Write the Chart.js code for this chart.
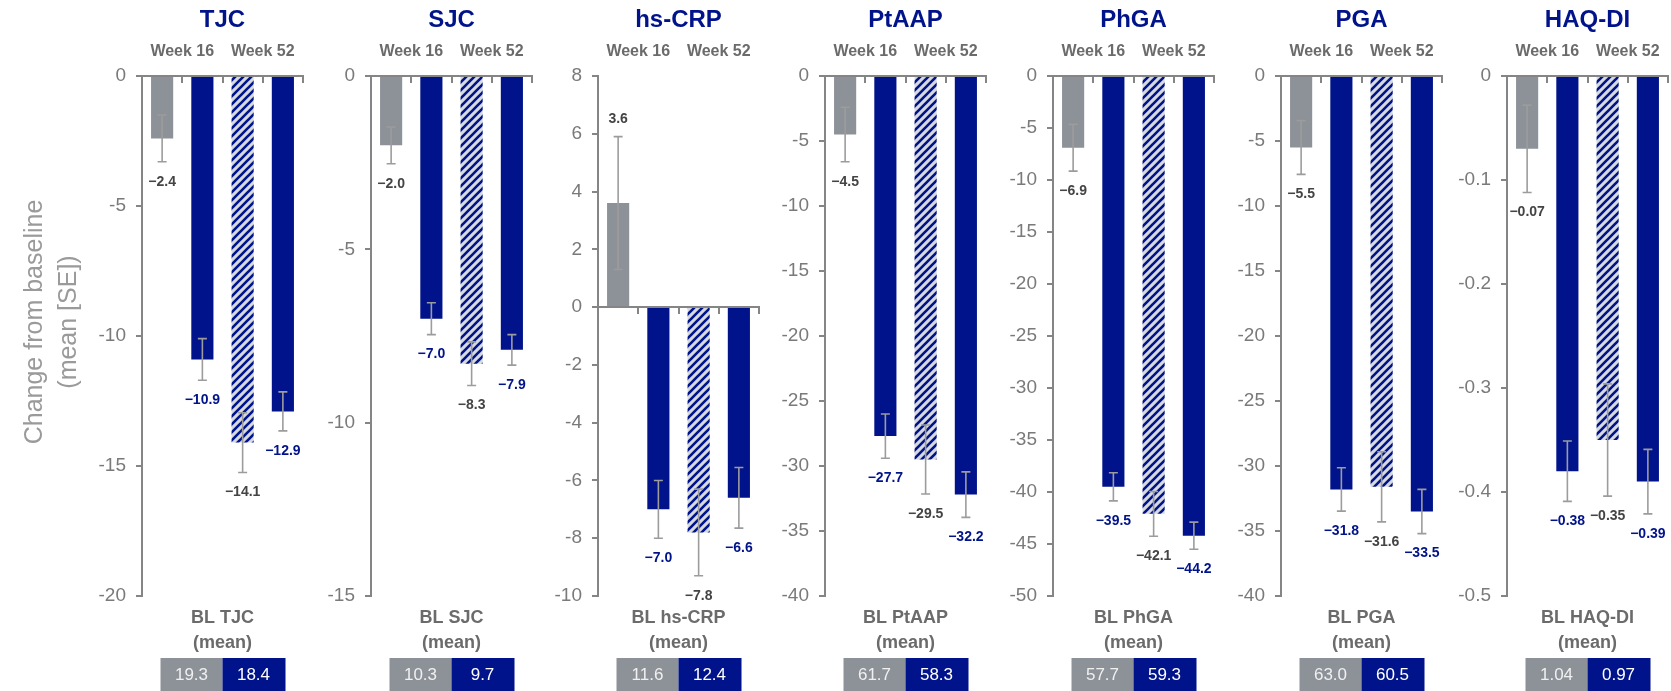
<!DOCTYPE html>
<html>
<head>
<meta charset="utf-8">
<script src="https://cdn.jsdelivr.net/npm/chart.js@4.4.1/dist/chart.umd.min.js"></script>
<style>
  html, body { margin: 0; padding: 0; background: #fff; width: 1671px; height: 691px; overflow: hidden; }
  #wrap { position: relative; width: 1671px; height: 691px; }
  #wrap canvas { position: absolute; top: 0; }
</style>
</head>
<body>
<div id="wrap"></div>
<script>
(() => {
  "use strict";

  // ── data ────────────────────────────────────────────────────────────────
  const PANELS = ["TJC", "SJC", "hs-CRP", "PtAAP", "PhGA", "PGA", "HAQ-DI"];
  const WEEKS = ["Week 16", "Week 52"];
  const CATS = ["Week 16 grey", "Week 16 blue", "Week 52 hatched", "Week 52 blue"];

  const GREY_16  = [-2.4, -2.0, 3.6, -4.5, -6.9, -5.5, -0.07];
  const BLUE_16  = [-10.9, -7.0, -7.0, -27.7, -39.5, -31.8, -0.38];
  const HATCH_52 = [-14.1, -8.3, -7.8, -29.5, -42.1, -31.6, -0.35];
  const BLUE_52  = [-12.9, -7.9, -6.6, -32.2, -44.2, -33.5, -0.39];

  const SE_GREY_16  = [0.9, 0.53, 2.3, 2.1, 2.25, 2.07, 0.042];
  const SE_BLUE_16  = [0.8, 0.46, 1.0, 1.7, 1.35, 1.67, 0.029];
  const SE_HATCH_52 = [1.15, 0.63, 1.5, 2.65, 2.15, 2.7, 0.054];
  const SE_BLUE_52  = [0.75, 0.44, 1.05, 1.75, 1.3, 1.7, 0.031];

  const Y_MIN  = [-20, -15, -10, -40, -50, -40, -0.5];
  const Y_MAX  = [0, 0, 8, 0, 0, 0, 0];
  const Y_STEP = [5, 5, 2, 5, 5, 5, 0.1];
  const DECIMALS = [1, 1, 1, 1, 1, 1, 2];

  const BL_GREY = [19.3, 10.3, 11.6, 61.7, 57.7, 63.0, 1.04];
  const BL_BLUE = [18.4, 9.7, 12.4, 58.3, 59.3, 60.5, 0.97];

  const Y_TITLE = ["Change from baseline", "(mean [SE])"];

  // ── layout / style ──────────────────────────────────────────────────────
  const AXIS_X = [142, 371, 598, 825, 1053, 1281, 1507];
  const PLOT_W = 161, TOP = 76, BOTTOM = 596, H = 691, Y_W = 60;
  const NAVY = "#00138a", GREY = "#8d9198", AXIS = "#858585", TXT = "#6b6b6b", ERR = "#9c9c9c";
  const FONT = "'Liberation Sans', Arial, sans-serif";
  Chart.defaults.font.family = FONT;

  const fmt = (v, d) => (v < 0 ? "\u2212" : "") + Math.abs(v).toFixed(d);

  function hatch(ctx) {
    const c = document.createElement("canvas");
    c.width = c.height = 8;
    const g = c.getContext("2d");
    g.fillStyle = "#d6d9dd";
    g.fillRect(0, 0, 8, 8);
    g.strokeStyle = NAVY;
    g.lineWidth = 2.6;
    g.beginPath();
    g.moveTo(-2, 10); g.lineTo(10, -2);
    g.moveTo(-2, 2); g.lineTo(2, -2);
    g.moveTo(6, 10); g.lineTo(10, 6);
    g.stroke();
    return ctx.createPattern(c, "repeat");
  }

  // error bars, value labels, headings, baseline boxes
  const overlay = {
    id: "overlay",
    afterDatasetsDraw(chart, args, o) {
      const { ctx, chartArea: a, scales: { x, y } } = chart;
      const i = o.idx;
      const vals = [GREY_16[i], BLUE_16[i], HATCH_52[i], BLUE_52[i]];
      const ses = [SE_GREY_16[i], SE_BLUE_16[i], SE_HATCH_52[i], SE_BLUE_52[i]];
      const bars = chart.getDatasetMeta(0).data;
      ctx.save();

      // error bars
      ctx.strokeStyle = ERR;
      ctx.lineWidth = 1.6;
      bars.forEach((b, j) => {
        const hi = y.getPixelForValue(vals[j] + ses[j]);
        const lo = y.getPixelForValue(vals[j] - ses[j]);
        ctx.beginPath();
        ctx.moveTo(b.x, hi); ctx.lineTo(b.x, lo);
        ctx.moveTo(b.x - 4.5, hi); ctx.lineTo(b.x + 4.5, hi);
        ctx.moveTo(b.x - 4.5, lo); ctx.lineTo(b.x + 4.5, lo);
        ctx.stroke();
      });

      // value labels
      ctx.font = "bold 14px " + FONT;
      ctx.textAlign = "center";
      ctx.textBaseline = "middle";
      bars.forEach((b, j) => {
        const v = vals[j];
        const ty = v < 0 ? y.getPixelForValue(v - ses[j]) + 20 : y.getPixelForValue(v + ses[j]) - 18;
        ctx.fillStyle = (j === 1 || j === 3) ? NAVY : "#444";
        ctx.fillText(fmt(v, DECIMALS[i]), b.x, ty);
      });

      // panel title + week headings
      const mid = (a.left + a.right) / 2;
      ctx.fillStyle = NAVY;
      ctx.font = "bold 24px " + FONT;
      ctx.fillText(PANELS[i], mid, 20);
      ctx.fillStyle = TXT;
      ctx.font = "bold 16px " + FONT;
      WEEKS.forEach((w, k) => {
        const wx = (x.getPixelForValue(2 * k) + x.getPixelForValue(2 * k + 1)) / 2;
        ctx.fillText(w, wx, 52);
      });

      // baseline means
      const bx = (x.getPixelForValue(1) + x.getPixelForValue(2)) / 2;
      ctx.font = "bold 18px " + FONT;
      ctx.fillText("BL " + PANELS[i], bx, 618);
      ctx.fillText("(mean)", bx, 643);
      ctx.fillStyle = GREY;
      ctx.fillRect(bx - 62, 658, 62, 34);
      ctx.fillStyle = NAVY;
      ctx.fillRect(bx, 658, 63, 34);
      ctx.font = "17px " + FONT;
      ctx.fillStyle = "#f0f0f0";
      ctx.fillText(BL_GREY[i].toFixed(DECIMALS[i]), bx - 31, 675);
      ctx.fillStyle = "#ffffff";
      ctx.fillText(BL_BLUE[i].toFixed(DECIMALS[i]), bx + 31, 675);

      // shared y title
      if (i === 0) {
        ctx.fillStyle = "#9a9a9a";
        ctx.font = "25px " + FONT;
        Y_TITLE.forEach((t, k) => {
          ctx.save();
          ctx.translate(35 + k * 34, (TOP + BOTTOM) / 2 - 14);
          ctx.rotate(-Math.PI / 2);
          ctx.fillText(t, 0, 0);
          ctx.restore();
        });
      }
      ctx.restore();
    },
  };

  const wrap = document.getElementById("wrap");
  PANELS.forEach((name, i) => {
    const yW = i === 0 ? AXIS_X[0] : Y_W;
    const cv = document.createElement("canvas");
    cv.width = yW + PLOT_W + 8;
    cv.height = H;
    cv.style.left = (AXIS_X[i] - yW) + "px";
    wrap.appendChild(cv);
    const ctx = cv.getContext("2d");

    new Chart(ctx, {
      type: "bar",
      data: {
        labels: CATS,
        datasets: [{
          data: [GREY_16[i], BLUE_16[i], HATCH_52[i], BLUE_52[i]],
          backgroundColor: [GREY, NAVY, hatch(ctx), NAVY],
          borderWidth: 0,
          barPercentage: 0.55,
          categoryPercentage: 1,
        }],
      },
      options: {
        responsive: false, animation: false, devicePixelRatio: 1,
        layout: { padding: { top: TOP, bottom: H - BOTTOM, left: 0, right: 8 } },
        plugins: { legend: { display: false }, tooltip: { enabled: false }, overlay: { idx: i } },
        scales: {
          x: {
            type: "category", position: { y: 0 }, offset: true,
            ticks: { display: false },
            grid: { offset: true, drawOnChartArea: false, tickLength: 6, color: AXIS, lineWidth: 2 },
            border: { color: AXIS, width: 2 },
            afterFit: (s) => { s.height = 0; },
          },
          y: {
            min: Y_MIN[i], max: Y_MAX[i],
            ticks: { stepSize: Y_STEP[i], color: "#7a7a7a", font: { size: 19 }, padding: 10 },
            grid: { drawOnChartArea: false, tickLength: 6, color: AXIS, lineWidth: 2 },
            border: { color: AXIS, width: 2 },
            afterFit: (s) => { s.width = yW; },
          },
        },
      },
      plugins: [overlay],
    });
  });
})();
</script>
</body>
</html>
